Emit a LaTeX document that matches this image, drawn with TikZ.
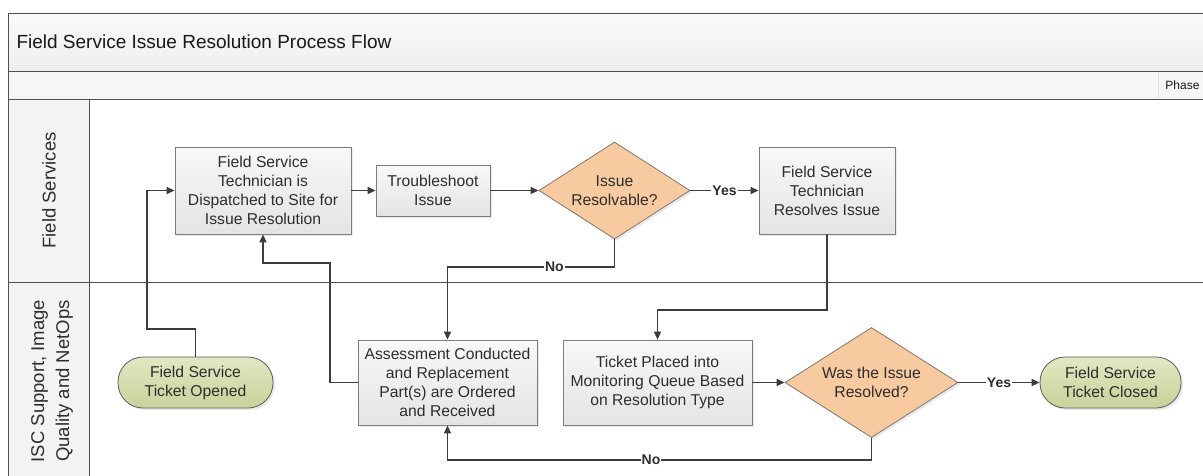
\documentclass[tikz,border=0pt]{standalone}
\usepackage{fontspec}
\setmainfont{Liberation Sans}
\usetikzlibrary{shapes.geometric,arrows.meta,shadows}

\definecolor{frameline}{RGB}{80,80,80}
\definecolor{bandtop}{RGB}{250,250,250}
\definecolor{bandbot}{RGB}{238,238,238}
\definecolor{phasefill}{RGB}{246,246,246}
\definecolor{lanefill}{RGB}{243,243,243}
\definecolor{boxtop}{RGB}{248,248,248}
\definecolor{boxbot}{RGB}{228,228,228}
\definecolor{boxedge}{RGB}{125,125,125}
\definecolor{decfill}{RGB}{248,202,160}
\definecolor{decedge}{RGB}{130,120,110}
\definecolor{termtop}{RGB}{226,231,194}
\definecolor{termbot}{RGB}{200,210,154}
\definecolor{termedge}{RGB}{95,95,95}
\definecolor{ink}{RGB}{45,45,45}
\definecolor{wire}{RGB}{60,60,60}

\tikzset{
  txt/.style={font=\fontsize{15.7}{19}\selectfont, text=ink, align=center},
  process/.style={txt, draw=boxedge, line width=0.8pt, top color=boxtop, bottom color=boxbot,
    inner sep=2pt, drop shadow={shadow xshift=2pt, shadow yshift=-2pt, opacity=0.18}},
  decision/.style={txt, shape=diamond, draw=decedge, line width=0.8pt, fill=decfill,
    inner sep=0pt, aspect=1.5, drop shadow={shadow xshift=2pt, shadow yshift=-2pt, opacity=0.18}},
  terminal/.style={txt, draw=termedge, line width=0.8pt, rounded corners=25pt,
    top color=termtop, bottom color=termbot,
    drop shadow={shadow xshift=2pt, shadow yshift=-2pt, opacity=0.18}},
  flow/.style={draw=wire, line width=1.4pt, -{Triangle[length=8pt,width=7pt]}},
  lbl/.style={fill=white, inner sep=1pt, text=ink, font=\bfseries\fontsize{14}{16}\selectfont},
  lane/.style={font=\fontsize{18.5}{25}\selectfont, text=ink, align=center, rotate=90},
  rule/.style={draw=frameline, line width=0.9pt}
}

\begin{document}
\begin{tikzpicture}[x=1pt,y=-1pt]
\useasboundingbox (0,0) rectangle (1203,476);
\fill[white] (0,0) rectangle (1203,476);

% pool frame, header bands and lane column
\shade[top color=bandtop, bottom color=bandbot] (8,13) rectangle (1210,71);
\fill[phasefill] (8,71) rectangle (1210,99);
\fill[lanefill] (8,99) rectangle (89,480);
\draw[draw=black!12, line width=0.6pt] (1158,72) -- (1158,98);
\draw[rule] (1210,13) -- (8,13) -- (8,480);
\draw[rule] (8,71) -- (1210,71);
\draw[rule] (8,99) -- (1210,99);
\draw[rule] (89,99) -- (89,480);
\draw[rule] (8,282) -- (1210,282);

\node[anchor=west, font=\fontsize{19}{22}\selectfont, text=black!90] (title) at (13,42)
  {Field Service Issue Resolution Process Flow};
\node[anchor=east, font=\fontsize{12}{14}\selectfont, text=black!90] (phase) at (1203,85) {Phase};

\node[lane] (lane1) at (49,190.5) {Field Services};
\node[lane] (lane2) at (52,381) {ISC Support, Image\\Quality and NetOps};

% steps
\node[process, minimum width=176pt, minimum height=87pt] (A) at (263,190.5)
  {Field Service\\Technician is\\Dispatched to Site for\\Issue Resolution};
\node[process, minimum width=114pt, minimum height=51pt] (B) at (433,190.5)
  {Troubleshoot\\Issue};
\node[decision, minimum width=151pt, minimum height=97pt] (C) at (614.5,190.5)
  {Issue\\Resolvable?};
\node[process, minimum width=136pt, minimum height=87pt] (D) at (827,190.5)
  {Field Service\\Technician\\Resolves Issue};
\node[terminal, minimum width=155pt, minimum height=51pt] (E) at (195.5,382.5)
  {Field Service\\Ticket Opened};
\node[process, minimum width=179pt, minimum height=85pt] (F) at (447.5,382.5)
  {Assessment Conducted\\and Replacement\\Part(s) are Ordered\\and Received};
\node[process, minimum width=189pt, minimum height=85pt] (G) at (657.5,382.5)
  {Ticket Placed into\\Monitoring Queue Based\\on Resolution Type};
\node[decision, minimum width=173pt, minimum height=110pt] (H) at (871.5,382.5)
  {Was the Issue\\Resolved?};
\node[terminal, minimum width=141pt, minimum height=51pt] (I) at (1110.5,382.5)
  {Field Service\\Ticket Closed};

% bend points of the routed connectors
\coordinate (ea) at (147,329);
\coordinate (cf) at (614.5,267);
\coordinate (fa) at (330,263);
\coordinate (dg) at (827,310);
\coordinate (hf) at (871.5,460);

% connectors
\draw[flow] (E.north) |- (ea) |- (A.west);
\draw[flow] (A) -- (B);
\draw[flow] (B) -- (C);
\draw[flow] (C) -- node[lbl] {Yes} (D);
\draw[flow] (C.south) -- (cf) -| node[lbl, pos=0.18] {No} (F.north);
\draw[flow] (F.west) -| (fa) -| (A.south);
\draw[flow] (D.south) -- (dg) -| (G.north);
\draw[flow] (G) -- (H);
\draw[flow] (H) -- node[lbl] {Yes} (I);
\draw[flow] (H.south) -- (hf) -| node[lbl, pos=0.26] {No} (F.south);
\end{tikzpicture}
\end{document}
